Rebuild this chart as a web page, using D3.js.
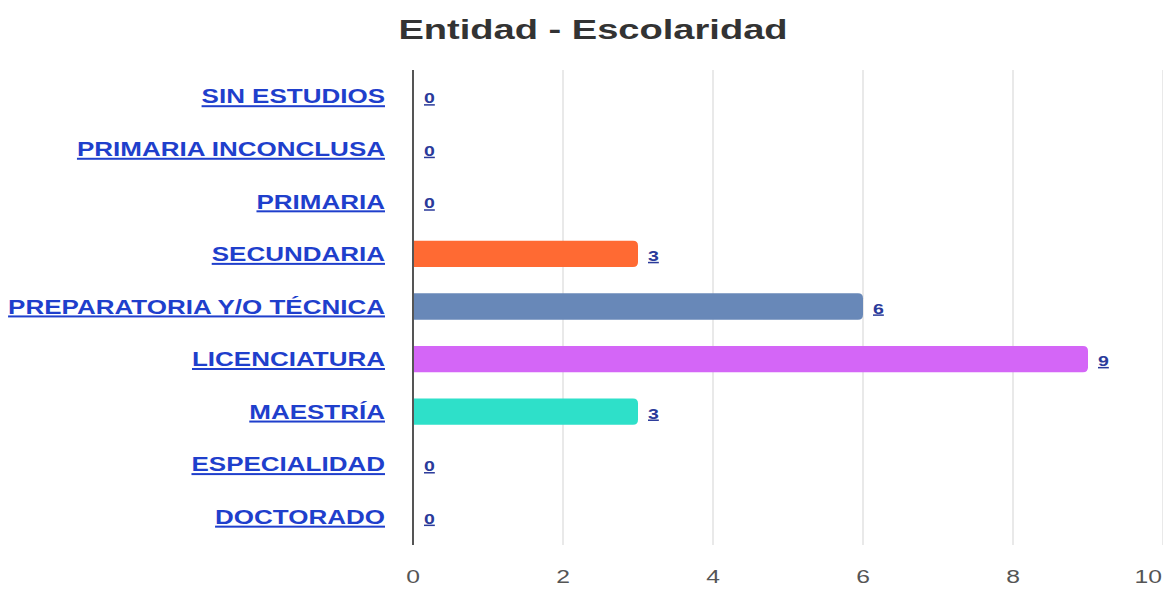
<!DOCTYPE html>
<html><head><meta charset="utf-8">
<script src="https://cdn.jsdelivr.net/npm/d3@7/dist/d3.min.js"></script>
<style>body{margin:0;background:#fff;}svg{display:block;}</style>
</head><body><svg id="c" width="1163" height="589"></svg>
<script>
const categories = ["SIN ESTUDIOS","PRIMARIA INCONCLUSA","PRIMARIA","SECUNDARIA","PREPARATORIA Y/O TÉCNICA","LICENCIATURA","MAESTRÍA","ESPECIALIDAD","DOCTORADO"];
const values = [0,0,0,3,6,9,3,0,0];
const barColors = ["#ff6a33","#ff6a33","#ff6a33","#ff6a33","#6888b8","#d466f7","#2ee0c9","#2ee0c9","#2ee0c9"];
const xTicks = [0,2,4,6,8,10];
const title = "Entidad - Escolaridad";

const SX = 1.3; // horizontal text stretch seen in the reference
const svg = d3.select("#c");
const m = {left:413, right:1163, top:70, bottom:543};
const x = d3.scaleLinear().domain([0,10]).range([m.left, m.right]);
const y = d3.scaleBand().domain(categories).range([m.top, m.bottom]).paddingInner(0.5).paddingOuter(0.25);
const font = "Liberation Sans, Arial, sans-serif";

svg.append("text").attr("transform",`translate(593,39) scale(1.36,1)`).attr("text-anchor","middle")
  .attr("font-family",font).attr("font-weight","bold")
  .attr("font-size",28).attr("fill","#333").text(title);

// grid
svg.append("g").selectAll("line").data(xTicks.filter(d=>d>0)).join("line")
  .attr("x1",d=>x(d)).attr("x2",d=>x(d)).attr("y1",m.top).attr("y2",m.bottom+2)
  .attr("stroke","#e2e2e2").attr("stroke-width",1.5);

// bars with right rounded corners
const r = 5;
svg.append("g").selectAll("path").data(values.map((v,i)=>({v,c:categories[i],i}))).join("path")
  .filter(d=>d.v>0)
  .attr("d",d=>{
    const x0=x(0)+1, x1=x(d.v), y0=y(d.c), h=y.bandwidth();
    return `M${x0},${y0}H${x1-r}Q${x1},${y0} ${x1},${y0+r}V${y0+h-r}Q${x1},${y0+h} ${x1-r},${y0+h}H${x0}Z`;
  })
  .attr("fill",d=>barColors[d.i]);

// axis line
svg.append("line").attr("x1",x(0)).attr("x2",x(0)).attr("y1",m.top).attr("y2",m.bottom+2)
  .attr("stroke","#555").attr("stroke-width",2);

// x tick labels
const last = xTicks[xTicks.length-1];
svg.append("g").selectAll("text").data(xTicks).join("text")
  .attr("transform",d=>`translate(${d===last? x(d)-1 : x(d)},${583}) scale(${SX},1)`)
  .attr("text-anchor",d=>d===last?"end":"middle")
  .attr("font-family",font).attr("font-size",19).attr("fill","#555").text(d=>d);

// category labels
svg.append("g").selectAll("text").data(categories).join("text")
  .attr("transform",d=>`translate(${m.left-28},${y(d)+y.bandwidth()/2}) scale(${SX},1)`)
  .attr("text-anchor","end").attr("dy","0.36em")
  .attr("font-family",font).attr("font-weight","bold")
  .attr("font-size",20).attr("fill","#1f3fcc").attr("text-decoration","underline").text(d=>d);

// value labels
svg.append("g").selectAll("text").data(values.map((v,i)=>({v,c:categories[i]}))).join("text")
  .attr("transform",d=>`translate(${x(d.v)+(d.v>0?10:11)},${y(d.c)+y.bandwidth()/2+7}) scale(${SX},1)`)
  .attr("font-family",font).attr("font-weight","bold")
  .attr("font-size",15).attr("fill","#2a3a9a").attr("text-decoration","underline").text(d=>d.v);
</script></body></html>
